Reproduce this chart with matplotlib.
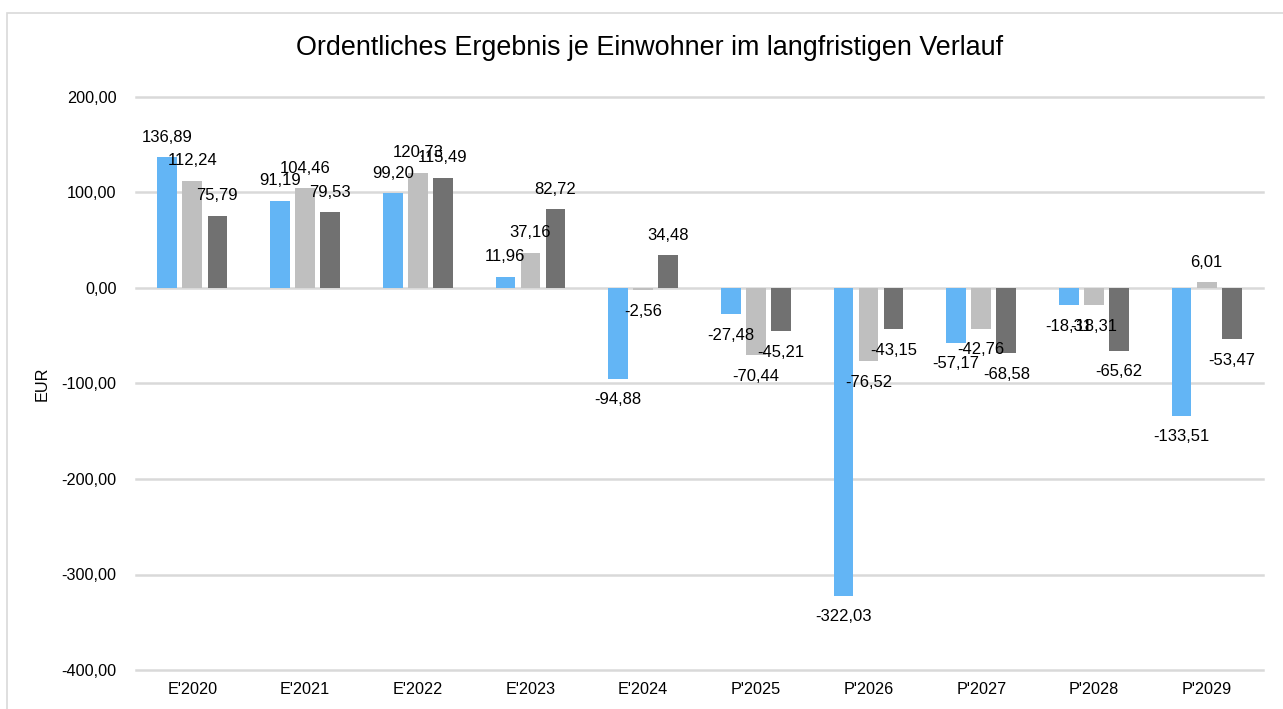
import numpy as np
import matplotlib.pyplot as plt
from matplotlib.patches import Rectangle

plt.rcParams['font.family'] = ['Liberation Sans', 'DejaVu Sans']

categories = ["E'2020", "E'2021", "E'2022", "E'2023", "E'2024",
              "P'2025", "P'2026", "P'2027", "P'2028", "P'2029"]
series_a = [136.89, 91.19, 99.20, 11.96, -94.88, -27.48, -322.03, -57.17, -18.31, -133.51]
series_b = [112.24, 104.46, 120.73, 37.16, -2.56, -70.44, -76.52, -42.76, -18.31, 6.01]
series_c = [75.79, 79.53, 115.49, 82.72, 34.48, -45.21, -43.15, -68.58, -65.62, -53.47]
y_ticks = [-400, -300, -200, -100, 0, 100, 200]

colors = ['#63B5F5', '#BFBFBF', '#717171']


def de_fmt(v):
    return f"{v:,.2f}".replace(",", "X").replace(".", ",").replace("X", ".")


fig = plt.figure(figsize=(12.83, 7.09), dpi=100)
ax = fig.add_axes([136/1283, 1-670/709, (1263-136)/1283, (670-97)/709])

# chart frame, cut by the image edge on right and bottom
fig.patches.append(Rectangle((7/1283, -0.1), 1.2, 1-13/709+0.1, transform=fig.transFigure,
                             fill=False, edgecolor='#D9D9D9', linewidth=1.2))

x = np.arange(len(categories))
width = 0.175
offset = 0.222
for i, (vals, col) in enumerate(zip([series_a, series_b, series_c], colors)):
    xs = x + (i - 1) * offset
    ax.bar(xs, vals, width=width, color=col, zorder=3)
    for xi, v in zip(xs, vals):
        ax.annotate(de_fmt(v), (xi, v), xytext=(0, 20 if v >= 0 else -21),
                    textcoords='offset pixels', ha='center', va='center',
                    fontsize=12, color='#000000', zorder=4)

ax.set_ylim(-400, 200)
ax.set_xlim(-0.5, len(categories) - 0.5)
ax.set_yticks(y_ticks)
ax.set_yticklabels([de_fmt(t) for t in y_ticks])
ax.set_xticks(x)
ax.set_xticklabels(categories)
ax.tick_params(length=0, labelsize=11.7, colors='#000000')
ax.tick_params(axis='y', pad=14)
ax.tick_params(axis='x', pad=9)
ax.grid(axis='y', color='#D9D9D9', linewidth=1.8, zorder=0)
for gl in ax.get_ygridlines():
    gl.set_clip_on(False)
for s in ax.spines.values():
    s.set_visible(False)

ax.set_ylabel("EUR", fontsize=11.7)
ax.yaxis.set_label_coords((50-136)/1127, 0.5)
fig.text(650/1283, 1-48/709, "Ordentliches Ergebnis je Einwohner im langfristigen Verlauf",
         ha='center', va='center', fontsize=19.4, color='#000000')

fig.savefig('out.png', dpi=100)
